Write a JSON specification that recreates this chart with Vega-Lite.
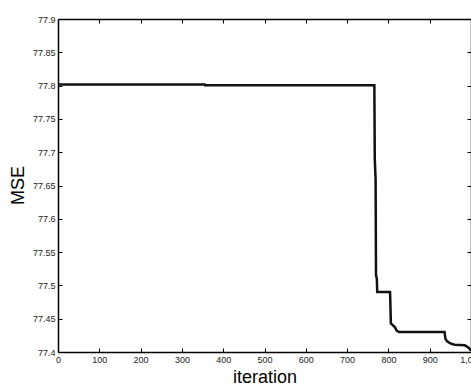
{
  "$schema": "https://vega.github.io/schema/vega-lite/v6.json",
  "width": 413,
  "height": 333,
  "autosize": {"type": "none"},
  "padding": {"left": 58, "top": 19, "right": 0, "bottom": 33},
  "background": "white",
  "config": {
    "view": {"stroke": null},
    "axis": {
      "domainColor": "black",
      "domainWidth": 1.5,
      "tickColor": "black",
      "tickSize": -4,
      "tickWidth": 1,
      "labelFont": "Liberation Sans",
      "labelFontSize": 9,
      "labelColor": "#222",
      "grid": false,
      "titleFont": "Liberation Sans",
      "titleFontWeight": "normal",
      "titleFontSize": 18,
      "titleColor": "black"
    }
  },
  "data": {
    "values": [
      {"iteration": 0, "mse": 77.8015},
      {"iteration": 355, "mse": 77.8015},
      {"iteration": 356, "mse": 77.8005},
      {"iteration": 766, "mse": 77.8005},
      {"iteration": 767, "mse": 77.69},
      {"iteration": 769, "mse": 77.66},
      {"iteration": 770, "mse": 77.515},
      {"iteration": 772, "mse": 77.51},
      {"iteration": 773, "mse": 77.49},
      {"iteration": 804, "mse": 77.49},
      {"iteration": 806, "mse": 77.443},
      {"iteration": 811, "mse": 77.44},
      {"iteration": 816, "mse": 77.437},
      {"iteration": 820, "mse": 77.432},
      {"iteration": 826, "mse": 77.43},
      {"iteration": 936, "mse": 77.43},
      {"iteration": 938, "mse": 77.42},
      {"iteration": 942, "mse": 77.416},
      {"iteration": 950, "mse": 77.413},
      {"iteration": 960, "mse": 77.411},
      {"iteration": 985, "mse": 77.41},
      {"iteration": 995, "mse": 77.406},
      {"iteration": 1000, "mse": 77.402}
    ]
  },
  "layer": [
    {
      "mark": {"type": "line", "color": "#111", "strokeWidth": 2.5, "clip": true},
      "encoding": {
        "x": {
          "field": "iteration", "type": "quantitative",
          "scale": {"domain": [0, 1000], "nice": false, "zero": false},
          "axis": {"orient": "bottom", "values": [0,100,200,300,400,500,600,700,800,900,1000], "labelFlush": false, "labelPadding": 7, "title": "iteration", "titleY": 30, "titleBaseline": "alphabetic"}
        },
        "y": {
          "field": "mse", "type": "quantitative",
          "scale": {"domain": [77.4, 77.9], "nice": false, "zero": false},
          "axis": {"orient": "left", "values": [77.4,77.45,77.5,77.55,77.6,77.65,77.7,77.75,77.8,77.85,77.9], "format": "~f", "labelFlush": false, "labelPadding": 7, "title": "MSE", "titleX": -40, "titleY": 166, "titleBaseline": "middle", "titleAngle": -90}
        }
      }
    },
    {
      "mark": {"type": "line", "opacity": 0},
      "encoding": {
        "x": {
          "field": "iteration", "type": "quantitative",
          "axis": {"orient": "top", "values": [0,100,200,300,400,500,600,700,800,900,1000], "labels": false, "title": null}
        },
        "y": {
          "field": "mse", "type": "quantitative",
          "axis": {"orient": "right", "values": [77.4,77.45,77.5,77.55,77.6,77.65,77.7,77.75,77.8,77.85,77.9], "labels": false, "title": null}
        }
      }
    }
  ],
  "resolve": {"axis": {"x": "independent", "y": "independent"}}
}
